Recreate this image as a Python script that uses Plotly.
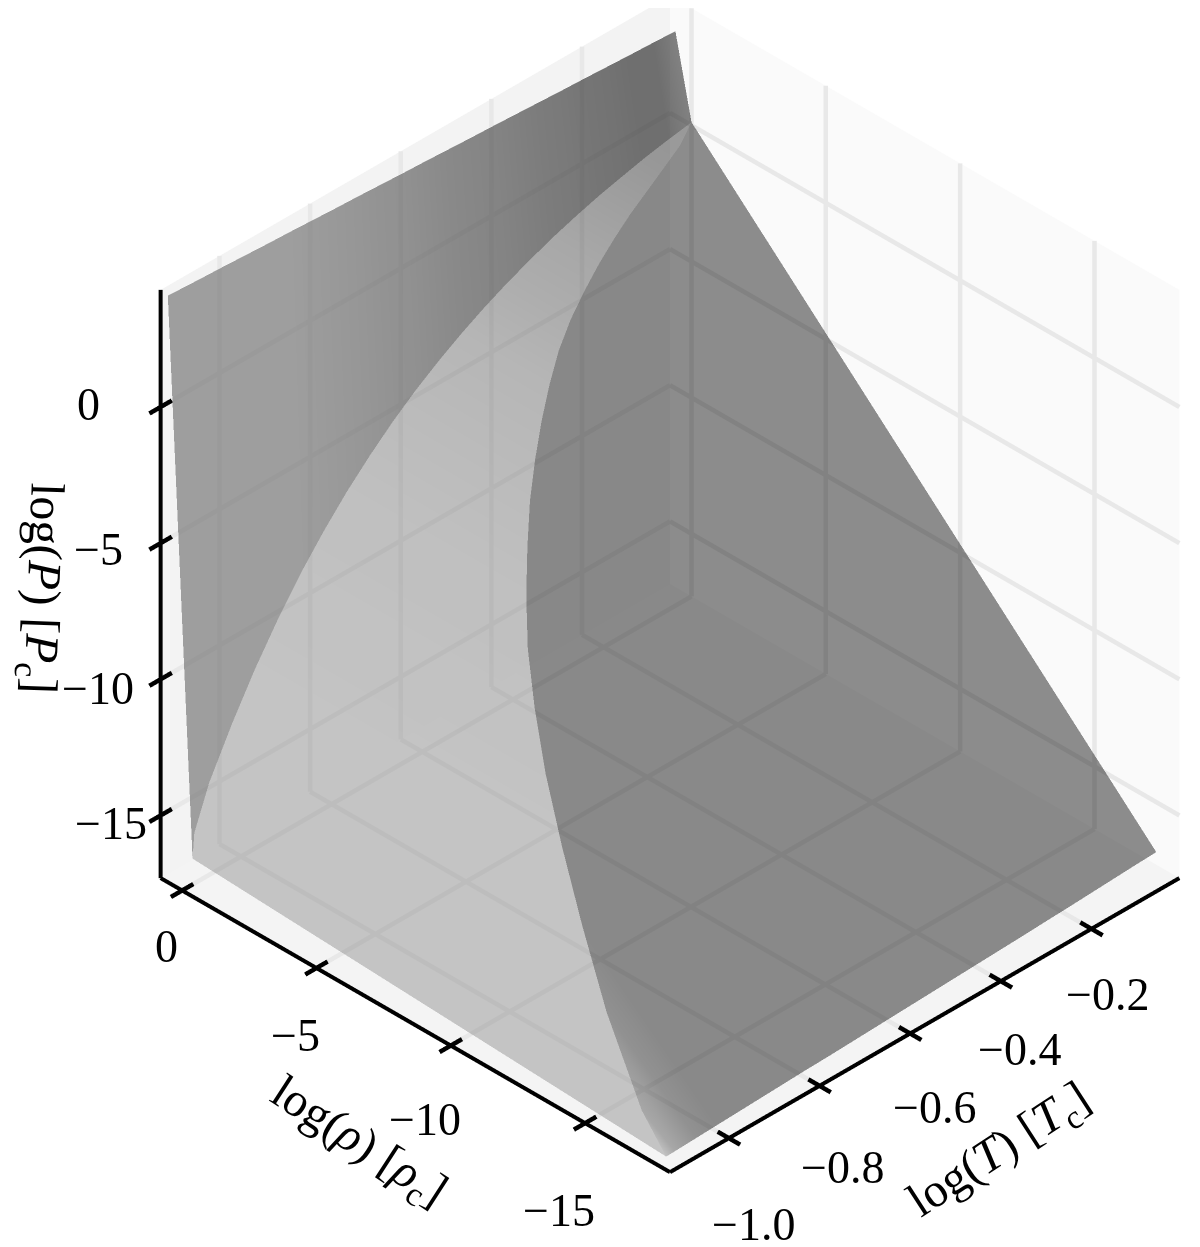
import plotly.graph_objects as go

# one row per isotherm
log_T = [-1.12, -1.10, -1.05, -1.00, -0.95, -0.90, -0.85, -0.80, -0.75, -0.70, -0.65, -0.60,
         -0.55, -0.50, -0.45, -0.40, -0.35, -0.30, -0.25, -0.20, -0.15, -0.10, -0.05, 0.00]
log_P_sat = [-17.0, -16.2, -14.3, -12.6, -11.07, -9.72, -8.5, -7.43, -6.47, -5.62, -4.85, -4.17,
             -3.57, -3.03, -2.55, -2.12, -1.74, -1.39, -1.09, -0.82, -0.58, -0.36, -0.17, 0.0]
log_P_liq = [-16.1, -15.5, -14.3, -12.6, -11.07, -9.72, -8.5, -7.43, -6.47, -5.62, -4.85, -4.17,
             -3.57, -3.03, -2.55, -2.12, -1.74, -1.39, -1.09, -0.82, -0.58, -0.36, -0.17, 0.0]
log_rho_gas = [-17.85, -16.6, -14.45, -12.7, -11.1, -9.65, -8.4, -7.3, -6.4, -5.6, -4.85, -4.2,
               -3.6, -3.05, -2.55, -2.15, -1.82, -1.52, -1.25, -1.0, -0.78, -0.55, -0.3, 0.1]
log_rho_liq = [-0.22, 0.05, 0.34, 0.33, 0.32, 0.31, 0.30, 0.29, 0.28, 0.27, 0.26, 0.25,
               0.24, 0.23, 0.22, 0.21, 0.20, 0.19, 0.18, 0.17, 0.15, 0.14, 0.12, 0.10]
log_P_top = [4.05, 4.03, 3.98, 3.94, 3.89, 3.84, 3.80, 3.75, 3.70, 3.66, 3.61, 3.56,
             3.52, 3.47, 3.42, 3.38, 3.33, 3.28, 3.23, 3.19, 3.14, 3.09, 3.05, 3.0]
log_rho_edge = [-17.85, -17.84, -17.81, -17.78, -17.75, -17.72, -17.69, -17.66, -17.64, -17.61, -17.58, -17.55,
                -17.52, -17.49, -17.46, -17.43, -17.40, -17.37, -17.35, -17.32, -17.29, -17.26, -17.23, -17.2]
log_P_edge = [-17.0, -17.0, -17.0, -17.0, -17.0, -17.0, -17.0, -17.0, -17.0, -17.0, -17.0, -17.0,
              -17.0, -17.0, -17.0, -17.0, -17.0, -17.0, -16.98, -16.98, -16.97, -16.96, -16.95, -16.95]
log_rho_top = 0.7

liquid_shade = [112, 112, 112, 112, 112, 112, 112, 108, 104, 100, 95, 92,
                86, 80, 76, 72, 66, 60, 56, 50, 46, 40, 40, 65]
mixed_shade = [125, 125, 125, 125, 125, 120, 120, 115, 115, 110, 105, 100,
               95, 90, 80, 70, 62, 55, 45, 35, 25, 15, 10, 8]
gas_shade = [130, 70, 20, 0, 0, 0, 0, 0, 0, 0, 0, 0,
             0, 0, 0, 0, 0, 0, 0, 0, 0, 0, 0, 0]

T_ticks = [-1.0, -0.8, -0.6, -0.4, -0.2]
T_labels = ["\u22121.0", "\u22120.8", "\u22120.6", "\u22120.4", "\u22120.2"]
rho_ticks = [0, -5, -10, -15]
rho_labels = ["0", "\u22125", "\u221210", "\u221215"]
P_ticks = [0, -5, -10, -15]
P_labels = ["0", "\u22125", "\u221210", "\u221215"]
T_lo, T_hi = -1.13, -0.006
rho_lo, rho_hi = -18.16, 0.8
P_lo, P_hi = -17.3, 4.3

FONT = "Liberation Serif"
TICK_SIZE = 46
TITLE_SIZE = 48
flat = dict(ambient=1, diffuse=0, specular=0, fresnel=0, roughness=1)
grey = [[0, "rgb(0,0,0)"], [1, "rgb(255,255,255)"]]
WIDEN = 0.06
# walls and grid slide back along the line of sight: same place on the
# picture, far enough behind the surface for the depth buffer to separate them
BACK_PANE = 0.04
BACK_GRID = 0.036
bT, brho, bP = T_hi - T_lo, rho_hi - rho_lo, P_hi - P_lo


def wide(lo, hi):
    pad = (hi - lo) * WIDEN
    return [lo - pad, hi + pad]


def back(p, f):
    return (p[0] + bT * f, p[1] + brho * f, p[2] - bP * f)


def sheet(rho_a, rho_b, p_a, p_b, shade, opacity):
    xs, ys, zs, cs, ii, jj, kk = [], [], [], [], [], [], []
    for q, t in enumerate(log_T):
        xs += [t, t]
        ys += [rho_a[q], rho_b[q]]
        zs += [p_a[q], p_b[q]]
        cs += [shade[q], shade[q]]
        if q:
            m = 2 * q
            ii += [m - 2, m - 1]
            jj += [m - 1, m + 1]
            kk += [m, m]
    return go.Mesh3d(x=xs, y=ys, z=zs, i=ii, j=jj, k=kk, intensity=cs,
                     colorscale=grey, cmin=0, cmax=255, showscale=False,
                     opacity=opacity, lighting=flat, hoverinfo="skip")


def pane(corners, level):
    pts = [back(p, BACK_PANE) for p in corners]
    return go.Mesh3d(x=[p[0] for p in pts], y=[p[1] for p in pts], z=[p[2] for p in pts],
                     i=[0, 0], j=[1, 2], k=[2, 3],
                     color=f"rgb({level},{level},{level})", opacity=1,
                     lighting=flat, hoverinfo="skip")


def lines(segments, color, width):
    xs, ys, zs = [], [], []
    for a, b in segments:
        xs += [a[0], b[0], None]
        ys += [a[1], b[1], None]
        zs += [a[2], b[2], None]
    return go.Scatter3d(x=xs, y=ys, z=zs, mode="lines", line=dict(color=color, width=width),
                        hoverinfo="skip")


n = len(log_T)
grid = []
for v in rho_ticks:
    grid += [((T_lo, v, P_lo), (T_hi, v, P_lo)), ((T_hi, v, P_lo), (T_hi, v, P_hi))]
for v in T_ticks:
    grid += [((v, rho_lo, P_lo), (v, rho_hi, P_lo)), ((v, rho_hi, P_lo), (v, rho_hi, P_hi))]
for v in P_ticks:
    grid += [((T_lo, rho_hi, v), (T_hi, rho_hi, v)), ((T_hi, rho_lo, v), (T_hi, rho_hi, v))]
grid = [(back(a, BACK_GRID), back(b, BACK_GRID)) for a, b in grid]

dT = bT * 0.022
drho = brho * 0.022
axes_seg = [((T_lo, rho_lo, P_lo), (T_lo, rho_hi, P_lo)),
            ((T_lo, rho_lo, P_lo), (T_hi, rho_lo, P_lo)),
            ((T_lo, rho_hi, P_lo), (T_lo, rho_hi, P_hi))]
ticks_seg = []
for v in rho_ticks:
    ticks_seg.append(((T_lo - dT, v, P_lo), (T_lo + dT, v, P_lo)))
for v in T_ticks:
    ticks_seg.append(((v, rho_lo - drho, P_lo), (v, rho_lo + drho, P_lo)))
for v in P_ticks:
    ticks_seg.append(((T_lo - dT, rho_hi, v), (T_lo + dT, rho_hi, v)))

fig = go.Figure([
    pane([(T_lo, rho_lo, P_lo), (T_hi, rho_lo, P_lo), (T_hi, rho_hi, P_lo), (T_lo, rho_hi, P_lo)], 244),
    pane([(T_lo, rho_hi, P_lo), (T_hi, rho_hi, P_lo), (T_hi, rho_hi, P_hi), (T_lo, rho_hi, P_hi)], 243),
    pane([(T_hi, rho_lo, P_lo), (T_hi, rho_hi, P_lo), (T_hi, rho_hi, P_hi), (T_hi, rho_lo, P_hi)], 250),
    lines(grid, "#e8e8e8", 9),
    lines(axes_seg, "black", 8),
    lines(ticks_seg, "black", 9),
    sheet([log_rho_top] * n, log_rho_liq, log_P_top, log_P_liq, liquid_shade, 0.65),
    sheet(log_rho_liq, log_rho_gas, log_P_liq, log_P_sat, mixed_shade, 0.40),
    sheet(log_rho_gas, log_rho_edge, log_P_sat, log_P_edge, gas_shade, 0.44),
])


def axis(lo, hi):
    return dict(range=wide(lo, hi), visible=True, showspikes=False, showgrid=False,
                showline=False, zeroline=False, showticklabels=False, ticks="",
                showbackground=False, showaxeslabels=False, title=dict(text=""))


def tick_note(x, y, z, text, xs, ys):
    return dict(x=x, y=y, z=z, text=text, showarrow=False, xshift=xs, yshift=ys,
                xanchor="center", yanchor="middle",
                font=dict(family=FONT, size=TICK_SIZE, color="black"))


notes = []
for v, s, xs, ys in zip(T_ticks, T_labels, [25, 23, 24, 19, 16], [-86, -82, -74, -68, -66]):
    notes.append(tick_note(v, rho_lo, P_lo, s, xs, ys))
for v, s, xs, ys in zip(rho_ticks, rho_labels, [-16, -21, -26, -26], [-56, -67, -74, -87]):
    notes.append(tick_note(T_lo, v, P_lo, s, xs, ys))
for v, s, xs, ys in zip(P_ticks, P_labels, [-72, -62, -63, -50], [3, -6, -9, -8]):
    notes.append(tick_note(T_lo, rho_hi, v, s, xs, ys))

d = 2.0
cx, cy, cz = -0.0703, 0.0703, -0.0933
ASPECT = 1.294
fig.update_layout(
    width=1200, height=1247, margin=dict(l=0, r=0, t=0, b=0),
    paper_bgcolor="white", showlegend=False,
    scene=dict(
        domain=dict(x=[0, 1], y=[0, 1]),
        xaxis=axis(T_lo, T_hi),
        yaxis=axis(rho_lo, rho_hi),
        zaxis=axis(P_lo, P_hi),
        aspectmode="manual", aspectratio=dict(x=ASPECT, y=ASPECT, z=ASPECT),
        annotations=notes,
        camera=dict(
            projection=dict(type="orthographic"),
            up=dict(x=0, y=0, z=1),
            center=dict(x=cx, y=cy, z=cz),
            eye=dict(x=cx - d, y=cy - d, z=cz + d),
        ),
    ),
    annotations=[
        dict(text="log(<i>\u03c1</i>) [<i>\u03c1</i><sub>c</sub>]", x=350 / 1200, y=1 - 1135 / 1247,
             xref="paper", yref="paper", showarrow=False, textangle=33, xanchor="center", yanchor="middle",
             font=dict(family=FONT, size=TITLE_SIZE, color="black")),
        dict(text="log(<i>T</i>) [<i>T</i><sub>c</sub>]", x=992 / 1200, y=1 - 1143 / 1247,
             xref="paper", yref="paper", showarrow=False, textangle=-33, xanchor="center", yanchor="middle",
             font=dict(family=FONT, size=TITLE_SIZE, color="black")),
        dict(text="log(<i>P</i>) [<i>P</i><sub>c</sub>]", x=33 / 1200, y=1 - 580 / 1247,
             xref="paper", yref="paper", showarrow=False, textangle=92, xanchor="center", yanchor="middle",
             font=dict(family=FONT, size=TITLE_SIZE, color="black")),
    ],
)
fig.write_html("out.html")
